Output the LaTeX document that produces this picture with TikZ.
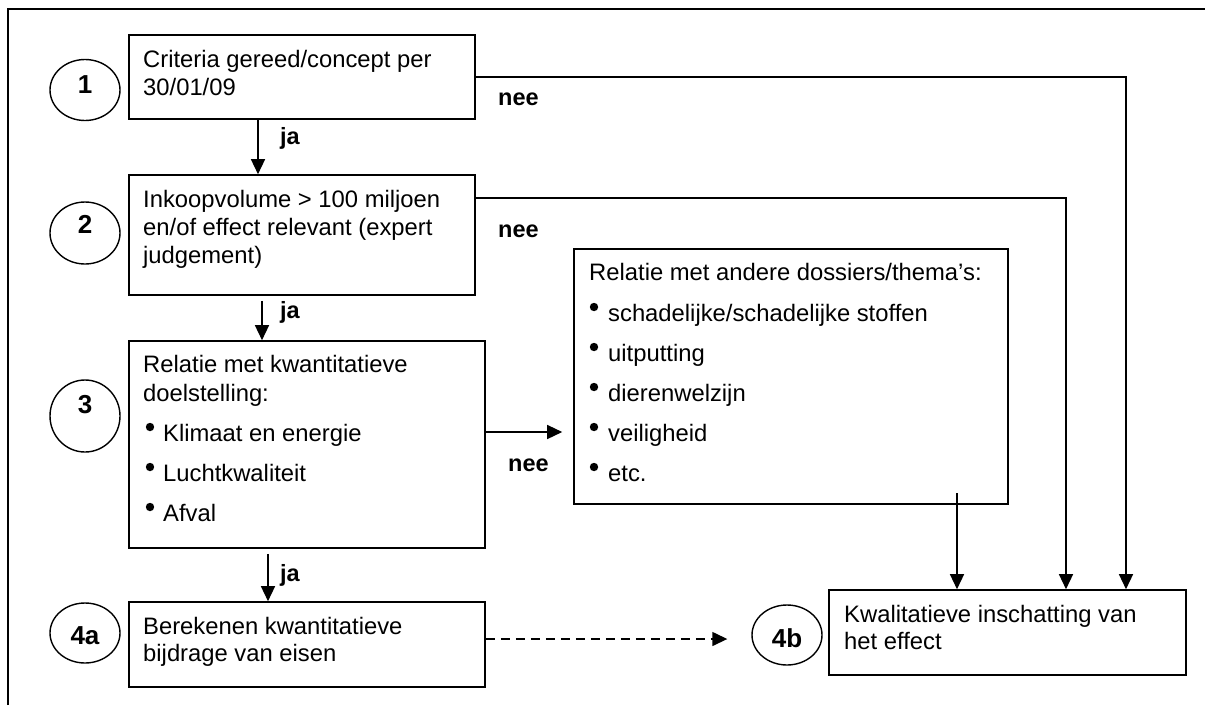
\documentclass[tikz,border=0pt]{standalone}
\usepackage{fontspec}
\setmainfont{Liberation Sans}
\usetikzlibrary{arrows.meta,shapes.geometric,calc}
\begin{document}
\begin{tikzpicture}[x=1pt,y=-1pt,
  box/.style={draw, line width=1.6pt, rectangle, inner sep=0pt},
  txt/.style={anchor=base west, inner sep=0pt, font=\fontsize{23.8}{28}\selectfont},
  lbl/.style={anchor=base west, inner sep=0pt, font=\fontsize{23.5}{28}\selectfont\bfseries},
  num/.style={inner sep=0pt, font=\fontsize{26}{30}\selectfont\bfseries},
  oval/.style={draw, ellipse, line width=1.4pt, minimum width=70pt, minimum height=61pt, inner sep=0pt},
  arr/.style={line width=1.4pt, -{Triangle[width=14pt,length=15pt]}},
  frame/.style={line width=1.6pt}
]
\useasboundingbox (0,0) rectangle (1205,705);
% outer frame (top and left only)
\draw[frame] (8,705) -- (8,9) -- (1205,9);

% boxes
\node[box, minimum width=346pt, minimum height=84pt]  (b1)  at (302,77) {};
\node[box, minimum width=346pt, minimum height=120pt] (b2)  at (302,235) {};
\node[box, minimum width=356pt, minimum height=207pt] (b3)  at (307,444.5) {};
\node[box, minimum width=356pt, minimum height=85pt]  (b4a) at (307,644.5) {};
\node[box, minimum width=434pt, minimum height=255pt] (rel) at (791,376.5) {};
\node[box, minimum width=357pt, minimum height=85pt]  (b4b) at (1007.5,632.5) {};

% ovals with numbers
\node[oval] (c1) at (85,90) {};
\node[oval, minimum height=62pt] (c2) at (85,233) {};
\node[oval, minimum height=72pt] (c3) at (85,416) {};
\node[oval, minimum height=60pt] (c4a) at (85,633) {};
\node[oval, minimum height=60pt] (c4b) at (787,635) {};
\node[num] (n1) at (85,85) {1};
\node[num] (n2) at (85,224) {2};
\node[num] (n3) at (85,405) {3};
\node[num] (n4a) at (85,636) {4a};
\node[num] (n4b) at (787,638) {4b};

% box texts
\node[txt] (t1a) at (143,67) {Criteria gereed/concept per};
\node[txt] (t1b) at (143,95) {30/01/09};
\node[txt] (t2a) at (143,207) {Inkoopvolume > 100 miljoen};
\node[txt] (t2b) at (143,235) {en/of effect relevant (expert};
\node[txt] (t2c) at (143,263) {judgement)};
\node[txt] (t3a) at (143,372) {Relatie met kwantitatieve};
\node[txt] (t3b) at (143,401) {doelstelling:};
\node[txt] (t3c) at (163,441) {Klimaat en energie};
\node[txt] (t3d) at (163,481) {Luchtkwaliteit};
\node[txt] (t3e) at (163,521) {Afval};
\foreach \yy in {441,481,521} \fill (150,\yy-14) circle (4.2);
\node[txt] (t4a1) at (143,634) {Berekenen kwantitatieve};
\node[txt] (t4a2) at (143,661) {bijdrage van eisen};
\node[txt] (tr0) at (589,280) {Relatie met andere dossiers/thema’s:};
\node[txt] (tr1) at (608,321) {schadelijke/schadelijke stoffen};
\node[txt] (tr2) at (608,361) {uitputting};
\node[txt] (tr3) at (608,401) {dierenwelzijn};
\node[txt] (tr4) at (608,441) {veiligheid};
\node[txt] (tr5) at (608,481) {etc.};
\foreach \yy in {321,361,401,441,481} \fill (594,\yy-14) circle (4.2);
\node[txt] (t4b1) at (844,622) {Kwalitatieve inschatting van};
\node[txt] (t4b2) at (844,649) {het effect};

% connectors
\coordinate (a1) at ($(b1.south)+(-44,0)$);
\draw[arr] (a1) -- (a1 |- b2.north);
\coordinate (a2) at ($(b2.south)+(-40,5)$);
\draw[arr] (a2) -- (a2 |- b3.north);
\coordinate (a3) at ($(b3.south)+(-39,5)$);
\draw[arr] (a3) -- (a3 |- b4a.north);

\draw[arr] (b1.east) -| ($(b4b.north)+(118.5,0)$);
\coordinate (e2) at ($(b2.east)+(0,-37)$);
\draw[arr] (e2) -| ($(b4b.north)+(58.5,0)$);
\coordinate (r1) at (957,493);
\draw[arr] (r1) -- (r1 |- b4b.north);
\coordinate (e3) at ($(b3.east)+(0,-12.5)$);
\draw[arr] (e3) -- ($(e3 -| rel.west)+(-11,0)$);
\coordinate (e4) at ($(b4a.east)+(0,-5.5)$);
\draw[arr, dash pattern=on 9pt off 6pt] (e4) -- ($(e4 -| c4b.west)+(-24,0)$);

% labels
\node[lbl] (ja1) at (280,144) {ja};
\node[lbl] (ja2) at (280,318) {ja};
\node[lbl] (ja3) at (280,581) {ja};
\node[lbl] (nee1) at (498,105) {nee};
\node[lbl] (nee2) at (498,237) {nee};
\node[lbl] (nee3) at (508,471) {nee};
\end{tikzpicture}
\end{document}
